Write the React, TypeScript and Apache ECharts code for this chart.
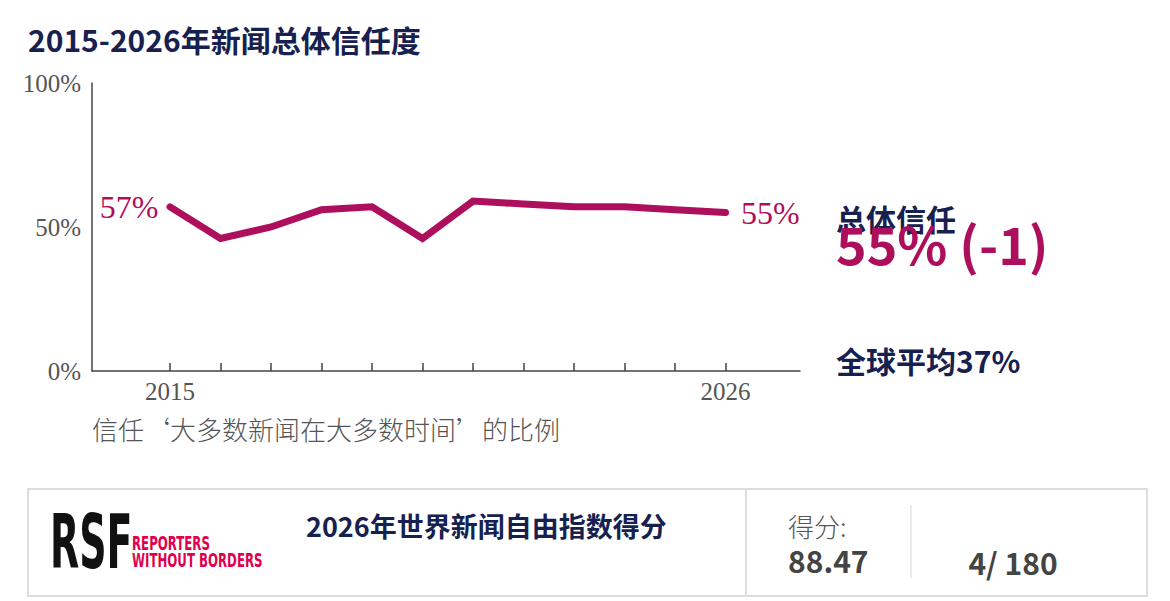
import React, { useEffect, useRef } from "react";
import * as echarts from "echarts";

const years = [2015, 2016, 2017, 2018, 2019, 2020, 2021, 2022, 2023, 2024, 2025, 2026];
const trust = [57, 46, 50, 56, 57, 46, 59, 58, 57, 57, 56, 55];
const labeledYears = [2015, 2026];
const yTicks = [0, 50, 100];

const NAVY = "#17214f";
const MAGENTA = "#ae0f5d";
const GREY = "#555555";
const SANS = "'Noto Sans CJK SC', 'Noto Sans', sans-serif";
const SERIF = "'Liberation Serif', 'DejaVu Serif', serif";

export default function App() {
  const ref = useRef<HTMLDivElement>(null);
  useEffect(() => {
    document.body.style.margin = "0";
    const chart = echarts.init(ref.current!, null, { renderer: "svg" });
    const data = years.map((y, i) => {
      const item: any = { value: [y, trust[i]] };
      if (i === 0) {
        item.label = { show: true, position: "left", distance: 11, formatter: trust[i] + "%" };
      } else if (i === years.length - 1) {
        item.label = { show: true, position: "right", distance: 15, formatter: trust[i] + "%" };
      }
      return item;
    });
    chart.setOption({
      animation: false,
      backgroundColor: "#ffffff",
      grid: { left: 92, top: 83, right: 370, bottom: 230, containLabel: false },
      xAxis: {
        type: "value",
        min: 2013.455,
        max: 2027.475,
        axisLine: { show: true, lineStyle: { color: "#444", width: 1.5 } },
        axisTick: {
          show: true,
          inside: true,
          length: 8,
          customValues: years,
          lineStyle: { color: "#444", width: 1.5 },
        },
        axisLabel: {
          show: true,
          customValues: labeledYears,
          color: GREY,
          fontFamily: SERIF,
          fontSize: 25,
          margin: 8,
          formatter: (v: number) => String(v),
        },
        splitLine: { show: false },
      },
      yAxis: {
        type: "value",
        min: 0,
        max: 100,
        interval: 50,
        axisLine: { show: true, lineStyle: { color: "#444", width: 1.5 } },
        axisTick: { show: false },
        axisLabel: {
          color: GREY,
          fontFamily: SERIF,
          fontSize: 25,
          margin: 11,
          formatter: "{value}%",
          customValues: yTicks,
        },
        splitLine: { show: false },
      },
      series: [
        {
          type: "line",
          data,
          symbol: "circle",
          symbolSize: 1,
          showSymbol: true,
          itemStyle: { color: MAGENTA },
          lineStyle: { color: MAGENTA, width: 7, cap: "round", join: "miter" },
          label: {
            show: false,
            color: MAGENTA,
            fontFamily: SERIF,
            fontSize: 32,
          },
          emphasis: { disabled: true },
        },
      ],
      graphic: [
        {
          type: "text",
          left: 28,
          top: 24,
          style: { text: "2015-2026年新闻总体信任度", fill: NAVY, font: `bold 30px ${SANS}` },
        },
        {
          type: "text",
          x: 92,
          y: 428,
          style: {
            text: "信任‘大多数新闻在大多数时间’的比例",
            fill: GREY,
            font: `300 26px ${SANS}`,
            verticalAlign: "middle",
          },
        },
        {
          type: "text",
          x: 836,
          y: 218,
          style: { text: "总体信任", fill: NAVY, font: `bold 30px ${SANS}`, verticalAlign: "middle" },
        },
        {
          type: "text",
          x: 836,
          y: 242,
          style: { text: "55% (-1)", fill: MAGENTA, font: `bold 52px ${SANS}`, verticalAlign: "middle" },
        },
        {
          type: "text",
          x: 836,
          y: 360,
          style: { text: "全球平均37%", fill: NAVY, font: `bold 30px ${SANS}`, verticalAlign: "middle" },
        },
        {
          type: "rect",
          shape: { x: 28, y: 489, width: 1119, height: 107 },
          style: { fill: "none", stroke: "#dddddd", lineWidth: 2 },
        },
        {
          type: "line",
          shape: { x1: 746, y1: 489, x2: 746, y2: 596 },
          style: { stroke: "#dddddd", lineWidth: 2 },
        },
        {
          type: "line",
          shape: { x1: 911, y1: 505, x2: 911, y2: 578 },
          style: { stroke: "#e4e4e4", lineWidth: 1.5 },
        },
        {
          type: "text",
          x: 50,
          y: 542,
          scaleX: 0.57,
          style: {
            text: "RSF",
            fill: "#111111",
            font: `bold 74px 'DejaVu Sans Condensed', 'DejaVu Sans', sans-serif`,
            verticalAlign: "middle",
          },
        },
        {
          type: "text",
          x: 132,
          y: 544,
          scaleX: 0.69,
          style: {
            text: "REPORTERS",
            fill: "#e0004d",
            font: `bold 19px 'DejaVu Sans Condensed', 'DejaVu Sans', sans-serif`,
            verticalAlign: "middle",
          },
        },
        {
          type: "text",
          x: 132,
          y: 561,
          scaleX: 0.69,
          style: {
            text: "WITHOUT BORDERS",
            fill: "#e0004d",
            font: `bold 19px 'DejaVu Sans Condensed', 'DejaVu Sans', sans-serif`,
            verticalAlign: "middle",
          },
        },
        {
          type: "text",
          x: 306,
          y: 525,
          style: {
            text: "2026年世界新闻自由指数得分",
            fill: NAVY,
            font: `bold 27px ${SANS}`,
            verticalAlign: "middle",
          },
        },
        {
          type: "text",
          x: 788,
          y: 525,
          style: { text: "得分:", fill: GREY, font: `300 26px ${SANS}`, verticalAlign: "middle" },
        },
        {
          type: "text",
          x: 788,
          y: 560,
          style: { text: "88.47", fill: "#444444", font: `bold 30px ${SANS}`, verticalAlign: "middle" },
        },
        {
          type: "text",
          x: 1013,
          y: 562,
          style: {
            text: "4/ 180",
            fill: "#444444",
            font: `bold 30px ${SANS}`,
            verticalAlign: "middle",
            align: "center",
          },
        },
      ],
    });
    return () => chart.dispose();
  }, []);
  return <div ref={ref} style={{ width: 1170, height: 601 }} />;
}
